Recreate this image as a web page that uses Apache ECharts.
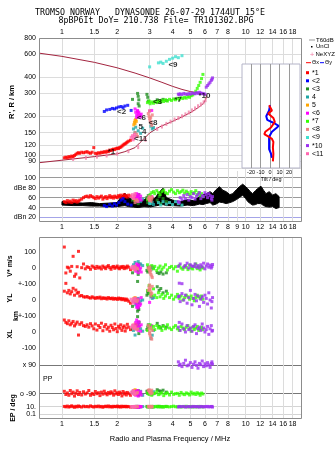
<!DOCTYPE html>
<html>
<head>
<meta charset="utf-8">
<script src="https://cdn.jsdelivr.net/npm/echarts@6/dist/echarts.min.js"></script>
<style>
html,body{margin:0;padding:0;background:#fff;}
#chart{width:335px;height:451px;}
</style>
</head>
<body>
<div id="chart"></div>
<script>
// tick labels
const topTicks = [1,1.5,2,3,4,5,6,7,8,10,12,14,16,18];
const midTicks = [1,1.5,2,3,4,5,6,7,8,9,10,12,14,16,18];
const rangeTicks = [80,90,100,120,150,200,300,400,600,800];
const ampTicks = [20,40,60,80,100];
const ampTickLabels = ['dBn 20','40','60','dBe 80','100'];
const velTicks = [-100,0,100,200,300,400,500];
const velTickLabels = ['-100','0','+-100','0','+-100','0','100'];
const tiltTicks = [-20,-10,0,10,20];

const modeNames = ['*1','<2','<3','4','5','<6','*7','<8','<9','*10','<11'];
const modeColors = ['#ff0000','#0000ff','#1e8c1e','#1ea5a5','#ffa500','#ff00ff','#33ff00','#f08080','#40e0d0','#9b30f0','#ff66b0'];

// model profile curve (upper branch then lower branch)
const profF = [0.75,1.0,1.5,2.0,2.5,3.0,3.5,4.0,4.5,5.0,5.5,6.0,6.15,6.12,6.05,5.9,5.6,5.1,4.5,4.0,3.4,3.0,2.8,2.65,2.5,2.2,2.0,1.5,1.0,0.75];
const profR = [612,578,520,472,430,395,365,340,322,310,303,299,296,284,270,252,237,217,198,183,166,149,135,125,115,107,103,98,92,88];
const nexF = [1.15,1.35,1.55,1.75,2.0,2.3,2.6,2.85,3.3,3.5,3.7,3.9,4.1,4.3,4.5,4.7,4.9,5.1,5.3,5.5,5.7,5.9,6.05];
const nexR = [94,96,98,100,103,108,116,132,160,167,175,182,189,194,200,207,214,222,230,239,247,256,266];

// mode 1
const m1F = [1.03,1.05,1.07,1.09,1.11,1.13,1.15,1.17,1.19,1.21,1.23,1.25,1.28,1.31,1.34,1.37,1.40,1.43,1.46,1.49,1.52,1.55,1.58,1.61,1.64,1.67,1.70,1.73,1.76,1.79,1.82,1.85,1.88,1.91,1.94,1.97,2.00,2.03,2.06,2.09,2.12,2.15,2.18,2.21,2.24,2.27,2.31,2.36];
const m1R = [96,97,96,98,97,99,98,100,102,104,105,104,106,105,106,107,105,104,106,115,104,103,105,104,106,105,107,106,108,107,110,109,111,112,111,113,114,113,115,116,118,120,122,123,125,127,129,131];
const m1A = [52,50,54,51,53,50,55,52,54,51,53,55,57,60,62,63,61,64,62,60,58,62,59,61,63,57,60,62,58,61,64,60,62,59,63,61,60,64,62,65,60,63,66,62,64,61,65,63];
const m1V = [131,-31,5,0,-20,10,73,-52,-38,8,104,-62,2,25,-5,8,3,-8,12,5,-3,10,0,6,-6,12,4,-4,8,15,2,-8,6,10,-2,5,12,0,-5,8,3,10,-4,6,0,12,5,-10];
const m1Y = [55,104,45,60,38,52,73,30,62,42,48,25,28,20,18,22,15,12,20,14,10,16,12,18,8,14,10,12,6,15,10,8,12,5,10,8,4,12,6,10,2,8,5,-2,6,0,-8,-20];
const m1X = [75,60,52,70,45,55,66,38,50,62,-19,48,58,40,35,45,30,52,38,20,50,12,40,28,55,8,33,46,18,30,5,42,28,14,50,22,2,36,24,45,10,28,38,6,25,48,30,15];
const m1P = [-75,-95,-85,-100,-70,-90,-80,-105,-88,-72,-95,-82,-98,-78,-92,-85,-70,-100,-88,-95,-76,-90,-84,-102,-80,-93,-74,-88,-97,-82,-90,-78,-86,-99,-72,-91,-84,-95,-80,-88,-104,-76,-92,-85,-98,-82,-90,-100];
const m1E = [12,9,15,8,11,18,10,7,13,9,16,11,8,14,10,12,9,17,11,8,13,10,15,9,12,7,11,14,10,16,9,12,8,13,11,10,15,9,12,8,14,10,11,13,9,12,10,8];
// mode 2
const m2F = [1.70,1.75,1.82,1.88,1.93,1.98,2.04,2.10,2.15,2.20,2.28,2.38];
const m2R = [218,224,226,230,228,232,236,238,233,240,243,222];
const m2A = [44,42,46,43,48,45,50,55,58,52,47,45];
// mode 3
const m3F = [2.42,2.58,2.60,2.62,2.60,2.63,2.90,2.93,2.95,3.30,3.38,3.45,3.55,3.70];
const m3R = [270,300,285,268,250,240,295,280,262,268,262,258,270,265];
const m3A = [55,62,48,66,52,58,60,50,64,55,62,48,58,52];
const m3V = [-30,-84,-20,10,-40,25,-15,-25,5,-28,-35,-25,-38,-30];
const m3Y = [-40,-70,-55,-60,-45,-20,30,50,40,83,60,72,45,55];
const m3X = [20,96,45,-10,30,60,15,30,45,54,35,25,40,30];
const m3P = [-80,-95,-70,-100,-85,-90,-75,-88,-70,-65,-72,-75,-68,-80];
const m3E = [10,12,9,11,8,10,12,9,11,10,13,9,10,12];
// mode 4
const m4F = [2.45,2.50,2.52,2.55,2.60,2.68,2.75,3.05,3.10,3.15];
const m4R = [160,150,165,140,155,148,162,168,160,164];
const m4A = [58,62,55,65,60,52,57,48,50,46];
const m4V = [20,35,10,-5,40,25,15,-10,5,0];
const m4Y = [-10,5,-30,-20,10,-5,0,20,10,15];
const m4X = [10,-19,30,45,60,20,5,-40,-20,10];
const m4P = [-85,-70,-95,-80,-90,-75,-100,-85,-92,-78];
const m4E = [9,11,8,12,10,9,11,10,8,12];
// mode 5
const m5F = [2.46,2.48,2.50,2.50,2.52,2.54];
const m5R = [172,180,186,176,190,183];
const m5A = [58,62,55,60,65,57];
const m5V = [-5,5,-10,0,10,-2];
const m5Y = [10,5,15,-5,8,0];
const m5X = [40,30,50,25,35,45];
const m5P = [-70,-80,-65,-75,-85,-72];
const m5E = [10,9,11,10,12,9];
// mode 6
const m6F = [2.50,2.52,2.55,2.55,2.58,2.60,2.60,2.62,2.65,2.68,2.70,2.58,3.00,3.08];
const m6R = [228,215,205,196,222,210,200,215,205,198,208,218,220,222];
const m6A = [60,65,55,68,58,62,52,66,57,63,55,60,58,62];
const m6V = [10,-20,25,-5,15,-30,5,20,-10,0,-25,12,0,8];
const m6Y = [10,-20,-45,0,-30,-50,5,-10,-35,-25,15,-40,-15,20];
const m6X = [40,60,20,75,30,50,10,65,35,5,45,25,30,40];
const m6P = [-75,-100,-85,-95,-70,-105,-80,-90,-88,-78,-98,-82,-86,-92];
const m6E = [8,11,10,12,9,7,10,13,9,11,10,8,12,10];
// mode 7
const m7F = [2.92,2.98,3.02,3.08,3.15,3.20,3.28,3.35,3.42,3.50,3.58,3.66,3.75,3.85,3.95,4.05,4.15,4.25,4.35,4.45,4.55,4.65,4.75,4.85,4.95,5.05,5.15,5.25,5.35,5.45,5.55,5.65,5.75,5.85];
const m7R = [255,262,250,258,252,260,255,262,258,266,260,268,262,270,265,272,268,275,270,278,274,280,276,284,280,288,292,300,312,328,345,365,390,420];
const m7A = [56,62,66,70,72,68,74,70,66,72,75,70,68,73,76,71,68,74,70,72,75,69,73,70,66,72,68,70,74,66,70,64,68,62];
const m7V = [20,-10,5,15,-5,10,-15,0,12,-8,5,20,-12,3,10,-5,8,-20,15,0,-8,12,5,-10,18,0,-6,10,25,-4,8,-12,5,0];
const m7Y = [60,90,40,25,70,30,15,45,20,35,10,25,40,15,30,5,20,35,10,25,0,15,30,20,5,25,10,-5,15,30,20,10,25,5];
const m7X = [10,30,45,20,35,15,40,25,30,10,35,20,45,25,15,30,40,20,10,35,25,15,30,40,20,5,30,15,25,35,10,20,30,15];
const m7P = [-85,-95,-80,-100,-90,-88,-78,-96,-92,-84,-102,-90,-86,-98,-80,-94,-90,-88,-100,-82,-92,-96,-85,-90,-98,-80,-92,-87,-95,-84,-90,-100,-86,-92];
const m7E = [9,11,10,12,8,10,13,9,11,10,8,12,10,9,11,14,10,9,12,8,11,10,13,9,10,12,8,11,10,9,12,10,11,9];
// mode 8
const m8F = [2.95,2.98,3.00,3.02,3.05,3.08,3.10,3.00,3.04,2.50,2.55,2.58];
const m8R = [210,200,192,185,178,170,205,220,196,150,145,140];
const m8A = [58,62,55,60,52,57,61,54,59,50,56,53];
const m8V = [0,-10,-20,-30,-40,-50,-60,5,-15,10,0,-5];
const m8Y = [60,80,94,70,50,40,85,65,30,10,-10,0];
const m8X = [40,20,0,-20,-35,-45,10,-10,25,30,15,20];
const m8P = [-70,-65,-80,-75,-90,-68,-85,-72,-78,-95,-88,-82];
const m8E = [12,10,9,11,10,13,9,11,10,8,12,10];
// mode 9
const m9F = [3.00,3.35,3.45,3.55,3.70,3.85,4.00,4.15,4.30,4.50];
const m9R = [480,515,522,510,530,548,560,575,565,585];
const m9A = [48,50,45,52,47,50,46,52,48,45];
// mode 10
const m10F = [4.3,4.4,4.5,4.6,4.7,4.8,4.9,5.0,5.1,5.2,5.3,5.4,5.5,5.6,5.7,5.8,5.9,6.0,6.1,6.2,6.3,6.4,6.5,6.6,4.35,6.55];
const m10R = [296,298,294,300,297,295,299,296,302,300,298,304,300,306,302,300,298,296,335,345,355,365,378,395,293,385];
const m10A = [52,60,56,64,58,66,55,62,60,68,57,63,66,70,58,64,62,70,66,60,68,64,58,62,50,55];
const m10V = [10,25,-98,5,15,30,0,20,12,10,25,5,15,0,20,8,30,-5,12,25,5,18,0,22,-95,10];
const m10Y = [20,-10,40,0,30,-20,15,60,-30,10,35,-5,25,-40,5,20,-15,30,10,-25,45,0,-50,15,25,-10];
const m10X = [30,10,50,20,0,40,15,25,5,35,45,-10,20,30,10,50,25,0,15,35,-15,20,40,10,60,5];
const m10P = [110,95,80,100,120,85,90,105,75,95,110,88,70,100,92,115,80,98,85,105,90,75,100,95,88,110];
const m10E = [9,11,10,12,8,10,11,9,10,12,9,11,10,8,12,10,9,11,10,12,9,10,11,8,10,12];
// mode 11
const m11F = [2.38,2.42,2.45,2.48,2.50,2.44];
const m11R = [138,142,136,145,140,132];
const m11A = [62,66,58,64,68,60];
const m11V = [0,10,-5,5,-10,2];
const m11Y = [5,-10,0,10,-5,-20];
const m11X = [30,40,20,35,25,45];
const m11P = [-80,-90,-75,-95,-85,-70];
const m11E = [10,11,9,12,10,8];

// mode label positions in the range panel
const labelF = [1.86,2.11,3.31,2.80,2.68,2.71,4.28,3.13,4.02,5.96,2.68];
const labelR = [107,217,259,152,165,195,267,177,499,286,134];

// noise band (T60dB) in amplitude panel
const bandF = [1.0,1.15,1.3,1.45,1.6,1.8,2.0,2.1,2.2,2.3,2.45,2.6,2.8,3.0,3.2,3.4,3.55,3.7,4.0,4.4,4.8,5.2,5.6,5.85,6.1,6.4,6.62,6.9,7.2,7.5,7.83,8.2,8.5,8.9,9.24,9.63,10.0,10.26,10.6,10.9,11.3,11.6,12.1,12.5,12.9,13.45,14.0,14.6,15.2];
const bandHi = [52,50,49,50,48,49,50,62,69,60,55,52,56,62,58,72,79,60,55,52,56,54,62,66,68,72,68,76,82,75,72,66,68,76,82,87,82,78,72,68,74,78,83,75,68,72,65,68,62];
const bandLo = [45,44,44,43,43,42,42,43,44,42,41,40,42,41,43,45,46,44,44,43,45,44,47,46,48,50,45,47,51,50,48,50,52,56,60,65,58,52,48,45,46,48,48,44,42,41,42,38,40];

// tilt inset
const tiltRedT = [-1,2,-2,3.5,5,1,-5,-6,-2,2,3.5,3,3.5,3];
const tiltRedR = [243,222,210,194,181,164,152,146,140,134,127,115,103,90];
const tiltBlueT = [0,-1,-4,-3,5,9,7,2,-1,-1,-1,1,2];
const tiltBlueR = [243,222,200,188,176,169,163,152,139,127,112,103,96];

const modes = [
  {f:m1F,r:m1R,a:m1A,v:m1V,y:m1Y,x:m1X,p:m1P,e:m1E},
  {f:m2F,r:m2R,a:m2A},
  {f:m3F,r:m3R,a:m3A,v:m3V,y:m3Y,x:m3X,p:m3P,e:m3E},
  {f:m4F,r:m4R,a:m4A,v:m4V,y:m4Y,x:m4X,p:m4P,e:m4E},
  {f:m5F,r:m5R,a:m5A,v:m5V,y:m5Y,x:m5X,p:m5P,e:m5E},
  {f:m6F,r:m6R,a:m6A,v:m6V,y:m6Y,x:m6X,p:m6P,e:m6E},
  {f:m7F,r:m7R,a:m7A,v:m7V,y:m7Y,x:m7X,p:m7P,e:m7E},
  {f:m8F,r:m8R,a:m8A,v:m8V,y:m8Y,x:m8X,p:m8P,e:m8E},
  {f:m9F,r:m9R,a:m9A},
  {f:m10F,r:m10R,a:m10A,v:m10V,y:m10Y,x:m10X,p:m10P,e:m10E},
  {f:m11F,r:m11R,a:m11A,v:m11V,y:m11Y,x:m11X,p:m11P,e:m11E}
];

const lg = Math.log10;
// EP is drawn on a log strip below the PP bands
const epAxis = e => -171.6 + 22.9 * (lg(e) - 1);
const polTicks = [epAxis(0.1), epAxis(10), -90, 90];
const polTickLabels = ['0.1','10.','o -90','x 90'];

const fmtF = v => String(Math.round(Math.pow(10, v) * 10) / 10);
const pick = (vals, labels) => v => {
  const i = vals.findIndex(t => Math.abs(t - v) < 1e-6);
  return i < 0 ? '' : labels[i];
};
const FONT = 'Liberation Sans';
const lbl = {fontSize: 7, color: '#000', fontFamily: FONT};
const xMin = lg(0.75), xMax = lg(20);

function freqAxis(grid, ticks, showLabels, pos) {
  const cv = ticks.map(lg);
  return {
    type: 'value', gridIndex: grid, min: xMin, max: xMax, position: pos || 'bottom',
    axisLine: {show: false},
    axisTick: {show: false, customValues: cv},
    axisLabel: Object.assign({show: showLabels, customValues: cv, formatter: fmtF, margin: 2}, lbl),
    splitLine: {show: true, lineStyle: {color: '#dcdcdc', width: 1}}
  };
}

const series = [];
function dots(name, color, idx, data, z) {
  series.push({
    type: 'scatter', name: name, xAxisIndex: idx, yAxisIndex: idx, data: data,
    symbol: 'rect', symbolSize: 3, itemStyle: {color: color}, silent: true, z: z || 3
  });
}

// noise band
series.push({
  type: 'custom', xAxisIndex: 2, yAxisIndex: 2, z: 2, silent: true,
  data: [[0, 50]],
  renderItem: function (params, api) {
    const pts = [];
    bandF.forEach((f, i) => pts.push(api.coord([lg(f), bandHi[i]])));
    for (let i = bandF.length - 1; i >= 0; i--) pts.push(api.coord([lg(bandF[i]), bandLo[i]]));
    return {type: 'polygon', shape: {points: pts}, style: {fill: '#000', stroke: '#000', lineWidth: 1}};
  }
});

// profile curve + NeXYZ markers
series.push({
  type: 'line', xAxisIndex: 0, yAxisIndex: 0, z: 2, silent: true, showSymbol: false,
  data: profF.map((f, i) => [lg(f), lg(profR[i])]),
  lineStyle: {color: '#a3243f', width: 1}
});
series.push({
  type: 'scatter', xAxisIndex: 0, yAxisIndex: 0, z: 2, silent: true,
  symbol: 'rect', symbolSize: [2, 4], itemStyle: {color: '#f37fa8'},
  data: nexF.map((f, i) => [lg(f), lg(nexR[i])])
});

modes.forEach((m, i) => {
  const c = modeColors[i], n = modeNames[i];
  dots(n, c, 0, m.f.map((f, k) => [lg(f), lg(m.r[k])]));
  dots(n, c, 2, m.f.map((f, k) => [lg(f), m.a[k]]));
  if (m.v) {
    dots(n, c, 3, m.f.map((f, k) => [lg(f), m.v[k] + 400]));
    dots(n, c, 3, m.f.map((f, k) => [lg(f), m.y[k] + 200]));
    dots(n, c, 3, m.f.map((f, k) => [lg(f), m.x[k]]));
    dots(n, c, 4, m.f.map((f, k) => [lg(f), m.p[k]]));
    dots(n, c, 4, m.f.map((f, k) => [lg(f), epAxis(m.e[k])]));
  }
});

// mode labels in range panel
series.push({
  type: 'scatter', xAxisIndex: 0, yAxisIndex: 0, z: 5, silent: true, symbolSize: 0,
  data: labelF.map((f, i) => ({value: [lg(f), lg(labelR[i])], name: modeNames[i]})),
  label: {show: true, position: 'inside', formatter: p => p.name, fontSize: 8, fontWeight: 'bold', color: '#000', fontFamily: FONT}
});

// tilt traces
series.push({
  type: 'line', xAxisIndex: 1, yAxisIndex: 1, z: 7, silent: true, showSymbol: false,
  data: tiltBlueT.map((t, i) => [t, lg(tiltBlueR[i])]), lineStyle: {color: '#0000ff', width: 2}
});
series.push({
  type: 'line', xAxisIndex: 1, yAxisIndex: 1, z: 7, silent: true, showSymbol: false,
  data: tiltRedT.map((t, i) => [t, lg(tiltRedR[i])]), lineStyle: {color: '#ff0000', width: 2}
});

// legend + titles
const graphics = [];
const txt = (x, y, text, opt) => graphics.push(Object.assign({
  type: 'text', x: x, y: y, silent: true,
  style: Object.assign({text: text, fill: '#000', font: '7px ' + FONT, align: 'left', verticalAlign: 'middle'}, (opt && opt.style) || {})
}, opt && opt.rotation ? {rotation: opt.rotation} : {}));

txt(150, 13, 'TROMSO NORWAY   DYNASONDE 26-07-29 1744UT 15°E', {style: {font: '8.3px DejaVu Sans Mono', align: 'center'}});
txt(156, 20.5, '8pBP6It DoY= 210.738 File= TR101302.BPG', {style: {font: '8.3px DejaVu Sans Mono', align: 'center'}});

const LF = '6px ' + FONT;
graphics.push({type: 'line', silent: true, shape: {x1: 309, y1: 40, x2: 315, y2: 40}, style: {stroke: '#999', lineWidth: 1}});
txt(316, 40, 'T60dB', {style: {font: LF}});
graphics.push({type: 'rect', silent: true, shape: {x: 311, y: 46, width: 1.5, height: 1.5}, style: {fill: '#000'}});
txt(316, 46.7, 'UnCl', {style: {font: LF}});
txt(312, 54.3, '+', {style: {font: '8px ' + FONT, fill: '#f37fa8', align: 'center'}});
txt(315.5, 54.3, 'NeXYZ', {style: {font: LF}});
graphics.push({type: 'line', silent: true, shape: {x1: 306, y1: 62.7, x2: 311, y2: 62.7}, style: {stroke: '#ff0000', lineWidth: 1}});
txt(312, 62.7, 'Θx', {style: {font: '5.5px ' + FONT}});
graphics.push({type: 'line', silent: true, shape: {x1: 320, y1: 62.7, x2: 324, y2: 62.7}, style: {stroke: '#0000ff', lineWidth: 1}});
txt(325, 62.7, 'Θy', {style: {font: '5.5px ' + FONT}});
modeNames.forEach((n, i) => {
  const y = 72.7 + i * 8.1;
  graphics.push({type: 'rect', silent: true, shape: {x: 306, y: y - 1.5, width: 3, height: 3}, style: {fill: modeColors[i]}});
  txt(312, y, n, {style: {font: '7px ' + FONT}});
});

// axis titles
const R90 = Math.PI / 2;
txt(12, 102, "R', R / km", {rotation: R90, style: {font: 'bold 7.5px ' + FONT, align: 'center'}});
txt(10, 266, 'V* m/s', {rotation: R90, style: {font: 'bold 7px ' + FONT, align: 'center'}});
txt(10, 298, 'YL', {rotation: R90, style: {font: 'bold 7px ' + FONT, align: 'center'}});
txt(16, 316, 'km', {rotation: R90, style: {font: 'bold 7px ' + FONT, align: 'center'}});
txt(10, 334, 'XL', {rotation: R90, style: {font: 'bold 7px ' + FONT, align: 'center'}});
txt(13, 408, 'EP / deg', {rotation: R90, style: {font: 'bold 7px ' + FONT, align: 'center'}});
txt(43, 379, 'PP', {style: {font: '7px ' + FONT}});
txt(170, 439, 'Radio and Plasma Frequency / MHz', {style: {font: '7.5px ' + FONT, align: 'center'}});

// frames
graphics.push({type: 'rect', silent: true, z: 4, shape: {x: 39.5, y: 38.5, width: 262, height: 183}, style: {fill: null, stroke: '#8c8c8c', lineWidth: 1}});
graphics.push({type: 'rect', silent: true, z: 4, shape: {x: 39.5, y: 237.5, width: 262, height: 181}, style: {fill: null, stroke: '#8c8c8c', lineWidth: 1}});

const option = {
  animation: false,
  backgroundColor: '#fff',
  grid: [
    {left: 39, top: 38, width: 262, height: 133},
    {left: 242, top: 64, width: 58, height: 104, show: true, backgroundColor: '#fff', borderColor: '#b4b4c8', borderWidth: 1, z: 5},
    {left: 39, top: 171, width: 262, height: 51},
    {left: 39, top: 237, width: 262, height: 119},
    {left: 39, top: 356, width: 262, height: 63}
  ],
  xAxis: [
    freqAxis(0, topTicks, true, 'top'),
    {
      type: 'value', gridIndex: 1, min: -29.5, max: 31.5, z: 6,
      axisLine: {show: false},
      axisTick: {show: false, customValues: tiltTicks},
      axisLabel: {customValues: tiltTicks, fontSize: 5.5, margin: 1, color: '#000', fontFamily: FONT},
      splitLine: {show: true, lineStyle: {color: '#9a9a9a'}},
      name: 'Tilt / deg', nameLocation: 'middle', nameGap: 8,
      nameTextStyle: {fontSize: 5.5, color: '#000', fontFamily: FONT}
    },
    freqAxis(2, midTicks, true),
    freqAxis(3, topTicks, false),
    freqAxis(4, topTicks, true)
  ],
  yAxis: [
    {
      type: 'value', gridIndex: 0, min: lg(76), max: lg(800),
      axisLine: {show: false},
      axisTick: {show: false, customValues: rangeTicks.map(lg)},
      axisLabel: Object.assign({customValues: rangeTicks.map(lg), formatter: v => String(Math.round(Math.pow(10, v))), margin: 3}, lbl),
      splitLine: {show: true, lineStyle: {color: '#dcdcdc'}}
    },
    {
      type: 'value', gridIndex: 1, min: lg(80), max: lg(505), z: 6,
      axisLine: {show: false}, axisTick: {show: false}, axisLabel: {show: false}, splitLine: {show: false}
    },
    {
      type: 'value', gridIndex: 2, min: 11, max: 113.5,
      axisLine: {show: false},
      axisTick: {show: false, customValues: ampTicks},
      axisLabel: Object.assign({customValues: ampTicks, formatter: pick(ampTicks, ampTickLabels), margin: 3}, lbl),
      splitLine: {show: true, lineStyle: {color: ['#a4a4e8', '#9a9a9a', '#9a9a9a', '#9a9a9a', '#9a9a9a']}}
    },
    {
      type: 'value', gridIndex: 3, min: -150, max: 593.75,
      axisLine: {show: false},
      axisTick: {show: false, customValues: velTicks},
      axisLabel: Object.assign({customValues: velTicks, formatter: pick(velTicks, velTickLabels), margin: 3}, lbl),
      splitLine: {show: false}
    },
    {
      type: 'value', gridIndex: 4, min: -248.7, max: 146.5,
      axisLine: {show: false},
      axisTick: {show: false, customValues: polTicks},
      axisLabel: Object.assign({customValues: polTicks, formatter: pick(polTicks, polTickLabels), margin: 3}, lbl),
      splitLine: {show: true, lineStyle: {color: ['#d4d4d4', '#d4d4d4', '#777', '#777']}}
    }
  ],
  graphic: graphics,
  series: series
};

const chart = echarts.init(document.getElementById('chart'), null, {renderer: 'canvas'});
chart.setOption(option);
</script>
</body>
</html>
